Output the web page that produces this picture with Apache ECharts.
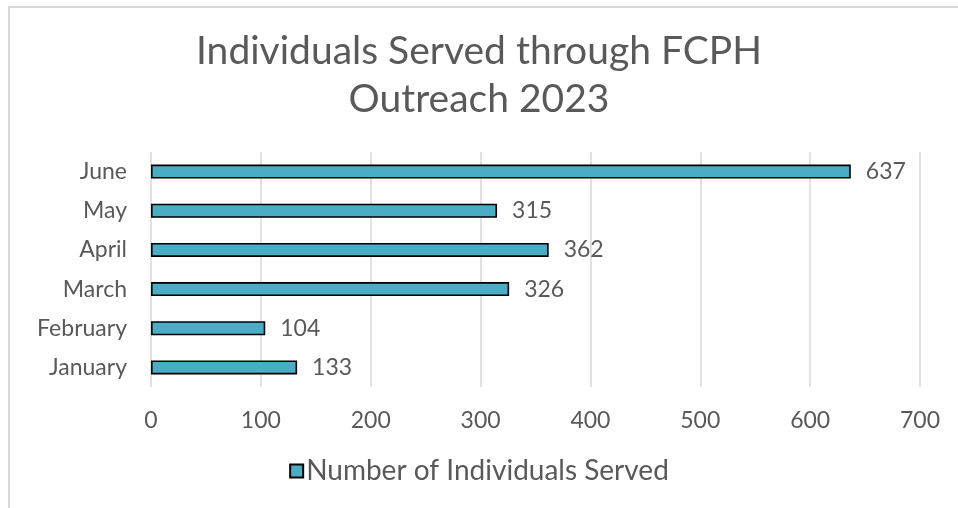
<!DOCTYPE html>
<html>
<head>
<meta charset="utf-8">
<script src="https://cdn.jsdelivr.net/npm/echarts@6/dist/echarts.min.js"></script>
<style>
  html, body { margin: 0; padding: 0; background: #fff; }
  #frame {
    position: absolute; left: 8px; top: 6px; width: 1000px; height: 600px;
    border-left: 2px solid #d9d9d9; border-top: 2px solid #d9d9d9;
  }
  #chart { position: absolute; left: 0; top: 0; width: 958px; height: 508px; }
</style>
</head>
<body>
<div id="frame"></div>
<div id="chart"></div>
<script>
const titleText = 'Individuals Served through FCPH\nOutreach 2023'
const seriesName = 'Number of Individuals Served'
const months = ['January', 'February', 'March', 'April', 'May', 'June']
const served = [133, 104, 326, 362, 315, 637]

const FONT = 'Lato'
const GRAY = '#595959'

const chart = echarts.init(document.getElementById('chart'))
chart.setOption({
  animation: false,
  textStyle: { fontFamily: FONT },
  title: {
    text: titleText,
    left: 'center',
    top: 22,
    textStyle: { fontFamily: FONT, fontSize: 39, fontWeight: 'normal', color: GRAY, lineHeight: 48 }
  },
  legend: {
    bottom: 18,
    left: 'center',
    itemWidth: 13,
    itemHeight: 13,
    itemGap: 6,
    textStyle: { fontSize: 28, color: GRAY, padding: [0, 0, 0, -2] },
    data: [{ name: seriesName, icon: 'rect' }]
  },
  grid: { left: 151, right: 38, top: 152, bottom: 121 },
  xAxis: {
    type: 'value',
    min: 0,
    max: 700,
    interval: 100,
    axisLine: { show: false },
    axisTick: { show: false },
    axisLabel: { fontSize: 23, color: GRAY, margin: 22 },
    splitLine: { lineStyle: { color: '#d9d9d9', width: 1.5 } }
  },
  yAxis: {
    type: 'category',
    data: months,
    axisLine: { show: false },
    axisTick: { show: false },
    axisLabel: { fontSize: 23, color: GRAY, margin: 24 }
  },
  series: [{
    name: seriesName,
    type: 'bar',
    data: served,
    barWidth: 14,
    itemStyle: { color: '#4bacc6', borderColor: '#000', borderWidth: 1.6 },
    label: { show: true, position: 'right', distance: 15, fontSize: 23, color: GRAY }
  }]
})
</script>
</body>
</html>
